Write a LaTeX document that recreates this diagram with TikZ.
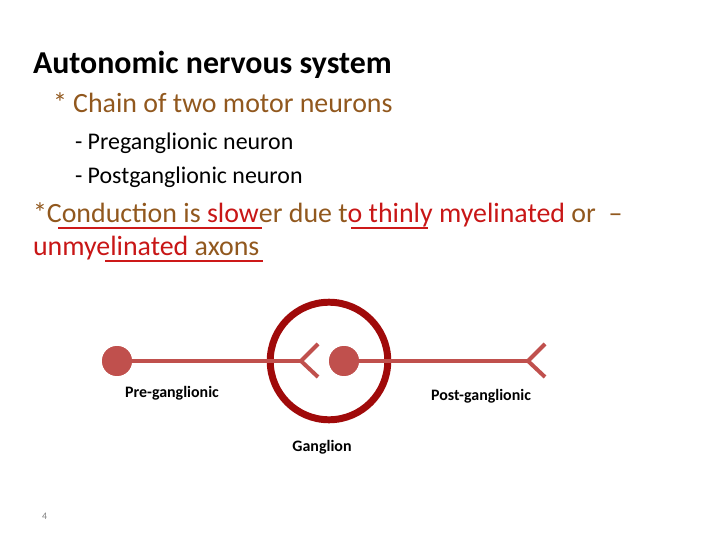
\documentclass[tikz,border=0pt]{standalone}
\usepackage{fontspec}
\setmainfont{Carlito}
\definecolor{brn}{RGB}{145,88,30}
\definecolor{rd}{RGB}{200,22,22}
\definecolor{ul}{RGB}{205,25,25}
\definecolor{axon}{RGB}{192,80,77}
\definecolor{gang}{RGB}{160,10,10}
\newcommand{\bt}[1]{\textcolor{brn}{#1}}
\newcommand{\rt}[1]{\textcolor{rd}{#1}}
\tikzset{
  txt/.style={anchor=base west, inner sep=0pt, outer sep=0pt},
  lbl/.style={inner sep=0pt, font=\fontsize{16}{18}\selectfont\bfseries},
  soma/.style={circle, fill=axon, draw=none, minimum size=30pt, inner sep=0pt},
  axonline/.style={draw=axon, line width=4pt},
  uline/.style={draw=ul, line width=2.6pt},
}
\begin{document}
\begin{tikzpicture}[x=1bp, y=-1bp]
\useasboundingbox (0,0) rectangle (720,540);
% texts
\node[txt, font=\fontsize{32}{36}\selectfont\bfseries] (title) at (33,74) {Autonomic nervous system};
\node[txt, font=\fontsize{28}{32}\selectfont] (chain) at (53,113) {\bt{* Chain of two motor neurons}};
\node[txt, font=\fontsize{24}{28}\selectfont] (pre) at (75,150) {- Preganglionic neuron};
\node[txt, font=\fontsize{24}{28}\selectfont] (post) at (75,184) {- Postganglionic neuron};
\node[txt, font=\fontsize{28}{32}\selectfont] (cond1) at (33,223) {\bt{*Conduction is}\bt{\ }\rt{slow}\bt{er due t}\rt{o thinly myelinated}\bt{\ or\ \ –}};
\node[txt, font=\fontsize{28}{32}\selectfont] (cond2) at (33,256) {\rt{unmyelinated}\bt{\ axons}};
% underlines
\draw[uline] (58,228) -- (262,228);
\draw[uline] (351,228) -- (428,228);
\draw[uline] (105,261) -- (263,261);
% diagram
\node[circle, draw=gang, line width=7pt, minimum size=118pt, inner sep=0pt] (ganglion) at (329,361) {};
\node[soma] (s1) at (117,361) {};
\node[soma] (s2) at (344,361) {};
\coordinate (f1) at (301,361);
\coordinate (f1a) at (318,344);
\coordinate (f1b) at (318,377);
\coordinate (f2) at (528,361);
\coordinate (f2a) at (545,344);
\coordinate (f2b) at (545,377);
\draw[axonline] (s1.center) -- (f1);
\draw[axonline] (f1a) -- (f1) -- (f1b);
\draw[axonline] (s2.center) -- (f2);
\draw[axonline] (f2a) -- (f2) -- (f2b);
\node[soma] at (s1) {};
\node[soma] at (s2) {};
\node[lbl] (lpre) at (172,393) {Pre-ganglionic};
\node[lbl] (lpost) at (481,396) {Post-ganglionic};
\node[lbl] (lgang) at (322,447) {Ganglion};
\node[txt, font=\fontsize{10}{12}\selectfont, text=gray] (pg) at (42,519) {4};
\end{tikzpicture}
\end{document}
